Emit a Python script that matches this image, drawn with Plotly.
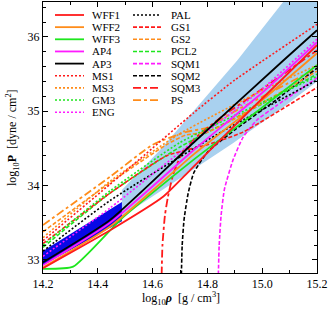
import plotly.graph_objects as go

# ---------------- data (log10 rho [g/cm^3], log10 P [dyne/cm^2]) ----------------
WFF1_x = [14.2, 14.445, 14.638, 14.737, 14.93, 15.2]
WFF1_y = [32.89, 33.40, 33.85, 34.21, 34.92, 35.89]
WFF2_x = [14.2, 14.445, 14.75, 15.0, 15.2]
WFF2_y = [32.90, 33.45, 34.42, 35.15, 35.78]
WFF3_x = [14.2, 14.31, 14.488, 14.75, 15.0, 15.2]
WFF3_y = [32.88, 32.91, 33.56, 34.35, 35.05, 35.62]
AP4_x = [14.2, 14.445, 14.75, 15.0, 15.2]
AP4_y = [32.93, 33.50, 34.48, 35.25, 35.93]
AP3_x = [14.2, 14.445, 14.75, 15.076, 15.2]
AP3_y = [32.97, 33.54, 34.58, 35.68, 36.09]
MS1_x = [14.2, 14.445, 14.554, 14.75, 14.9, 15.2]
MS1_y = [33.26, 34.02, 34.36, 34.98, 35.42, 36.17]
MS3_x = [14.2, 14.445, 14.7, 15.0, 15.2]
MS3_y = [33.30, 34.06, 34.70, 35.28, 35.62]
GM3_x = [14.2, 14.445, 14.7, 15.0, 15.2]
GM3_y = [33.20, 33.93, 34.58, 35.12, 35.47]
ENG_x = [14.2, 14.445, 14.7, 15.0, 15.2]
ENG_y = [33.05, 33.70, 34.45, 35.30, 35.97]
PAL_x = [14.2, 14.445, 14.85, 15.2]
PAL_y = [33.12, 33.80, 34.72, 35.42]
GS1_x = [14.2, 14.445, 14.65, 14.8, 14.93, 15.2]
GS1_y = [33.22, 33.90, 34.40, 34.55, 34.72, 35.32]
GS2_x = [14.2, 14.445, 14.65, 14.72, 14.8, 14.9, 15.2]
GS2_y = [33.38, 34.04, 34.55, 34.68, 34.72, 34.90, 35.54]
PCL2_x = [14.2, 14.445, 14.7, 15.0, 15.2]
PCL2_y = [33.17, 33.90, 34.52, 35.10, 35.50]
SQM1_x = [14.84, 14.843, 14.85, 14.862, 14.893, 14.93, 14.98, 15.05, 15.2]
SQM1_y = [32.80, 33.20, 33.60, 33.95, 34.34, 34.65, 34.88, 35.07, 35.45]
SQM2_x = [14.705, 14.708, 14.715, 14.73, 14.75, 14.8, 14.9, 15.05, 15.2]
SQM2_y = [32.80, 33.20, 33.55, 33.90, 34.17, 34.45, 34.75, 35.15, 35.58]
SQM3_x = [14.633, 14.636, 14.645, 14.656, 14.675, 14.7, 14.75, 14.85, 15.0, 15.2]
SQM3_y = [32.80, 33.20, 33.60, 33.85, 34.15, 34.38, 34.62, 34.92, 35.30, 35.82]
PS_x = [14.2, 14.445, 14.6, 14.72, 14.8, 14.9, 15.2]
PS_y = [33.47, 34.12, 34.55, 34.72, 34.78, 35.00, 35.58]

# constraint bands
band_light_x = [14.488, 14.627, 14.908, 15.083, 15.2, 15.2, 15.076, 14.893, 14.488]
band_light_y = [33.94, 34.48, 35.68, 36.49, 37.05, 35.40, 35.05, 34.57, 33.58]
band_dark_x = [14.2, 14.488, 14.488, 14.2]
band_dark_y = [33.12, 33.78, 33.52, 32.93]

col1 = ["WFF1", "WFF2", "WFF3", "AP4", "AP3", "MS1", "MS3", "GM3", "ENG"]
col2 = ["PAL", "GS1", "GS2", "PCL2", "SQM1", "SQM2", "SQM3", "PS"]

x_ticks = [14.2, 14.4, 14.6, 14.8, 15.0, 15.2]
x_ticktext = ["14.2", "14.4", "14.6", "14.8", "15.0", "15.2"]
y_ticks = [33, 34, 35, 36]
y_ticktext = ["33", "34", "35", "36"]

# ---------------- styles ----------------
RED = "#ff1a1a"
ORA = "#ff8c1a"
GRN = "#1ee61e"
MAG = "#ff1aff"
BLK = "#000000"
DOT = "2px,2px"
DASH = "4px,2px"
LDD = "8px,3px,3px,3px"
styles = {
    "WFF1": (RED, "solid", 1.8), "WFF2": (ORA, "solid", 1.8), "WFF3": (GRN, "solid", 1.8),
    "AP4": (MAG, "solid", 1.8), "AP3": (BLK, "solid", 1.8),
    "MS1": (RED, DOT, 1.6), "MS3": (ORA, DOT, 1.6), "GM3": (GRN, DOT, 1.6), "ENG": (MAG, DOT, 1.6),
    "PAL": (BLK, DOT, 1.6), "GS1": (RED, DASH, 1.6), "GS2": (ORA, DASH, 1.6),
    "PCL2": (GRN, DASH, 1.6), "SQM1": (MAG, DASH, 1.6), "SQM2": (BLK, DASH, 1.6),
    "SQM3": (RED, LDD, 1.8), "PS": (ORA, LDD, 1.8),
}
data = {
    "WFF1": (WFF1_x, WFF1_y), "WFF2": (WFF2_x, WFF2_y), "WFF3": (WFF3_x, WFF3_y),
    "AP4": (AP4_x, AP4_y), "AP3": (AP3_x, AP3_y), "MS1": (MS1_x, MS1_y),
    "MS3": (MS3_x, MS3_y), "GM3": (GM3_x, GM3_y), "ENG": (ENG_x, ENG_y),
    "PAL": (PAL_x, PAL_y), "GS1": (GS1_x, GS1_y), "GS2": (GS2_x, GS2_y),
    "PCL2": (PCL2_x, PCL2_y), "SQM1": (SQM1_x, SQM1_y), "SQM2": (SQM2_x, SQM2_y),
    "SQM3": (SQM3_x, SQM3_y), "PS": (PS_x, PS_y),
}

FONT = "Liberation Serif, Times New Roman, serif"
fig = go.Figure()
fig.add_trace(go.Scatter(x=band_light_x, y=band_light_y, fill="toself", mode="lines",
                         line=dict(width=0), fillcolor="#a9d1ef", showlegend=False, hoverinfo="skip"))
fig.add_trace(go.Scatter(x=band_dark_x, y=band_dark_y, fill="toself", mode="lines",
                         line=dict(width=0), fillcolor="#0808e6", showlegend=False, hoverinfo="skip"))
for name in col2[::-1] + col1[::-1]:
    xs, ys = data[name]
    c, d, w = styles[name]
    fig.add_trace(go.Scatter(x=xs, y=ys, mode="lines", name=name,
                             line=dict(color=c, dash=d, width=w, shape="spline", smoothing=0.5),
                             showlegend=False))

# plot-area geometry in pixels
L, R, T, B = 43, 317, 2, 273
W, H = R - L, B - T
def px2paper(px, py):
    return (px - L) / W, 1 - (py - T) / H

# manual legend (two columns)
for col, (lx0, lx1, tx) in ((col1, (55, 84, 90)), (col2, (133, 161, 169))):
    for i, name in enumerate(col):
        py = 15 + 12.15 * i
        c, d, w = styles[name]
        x0, y0 = px2paper(lx0, py)
        x1, _ = px2paper(lx1, py)
        xt, _ = px2paper(tx, py)
        fig.add_shape(type="line", xref="paper", yref="paper", x0=x0, x1=x1, y0=y0, y1=y0,
                      line=dict(color=c, dash=d, width=w))
        fig.add_annotation(xref="paper", yref="paper", x=xt, y=y0, text=name, showarrow=False,
                           xanchor="left", yanchor="middle", font=dict(size=11, color="black", family=FONT))

# axis titles
xtx, xty = px2paper(181, 298)
fig.add_annotation(xref="paper", yref="paper", x=xtx, y=xty, showarrow=False,
                   text="log<sub>10</sub><b><i>ρ</i></b>  [g / cm<sup>3</sup>]",
                   xanchor="center", yanchor="middle", font=dict(size=12, family=FONT, color="black"))
ytx, yty = px2paper(12, 138)
fig.add_annotation(xref="paper", yref="paper", x=ytx, y=yty, showarrow=False, textangle=-90,
                   text="log<sub>10</sub><b>P</b>  [dyne / cm<sup>2</sup>]",
                   xanchor="center", yanchor="middle", font=dict(size=12, family=FONT, color="black"))

axis_common = dict(showgrid=False, zeroline=False, showline=True, linecolor="black", linewidth=1,
                   mirror="ticks", ticks="inside", ticklen=5, tickcolor="black", automargin=False,
                   tickfont=dict(size=12, family=FONT, color="black"))
fig.update_xaxes(range=[14.2, 15.2], tickvals=x_ticks, ticktext=x_ticktext, side="bottom",
                 minor=dict(ticks="inside", dtick=0.1, tick0=14.2, ticklen=3, tickcolor="black"),
                 **axis_common)
fig.update_yaxes(range=[32.825, 36.47], tickvals=y_ticks, ticktext=y_ticktext, side="left",
                 minor=dict(ticks="inside", dtick=0.2, tick0=33, ticklen=3, tickcolor="black"),
                 **axis_common)
fig.update_layout(width=329, height=311, margin=dict(l=43, r=12, t=2, b=38, pad=0),
                  plot_bgcolor="white", paper_bgcolor="white", showlegend=False)
fig.write_html("out.html", config={"displayModeBar": False},
               post_script="document.body.style.margin='0';")
